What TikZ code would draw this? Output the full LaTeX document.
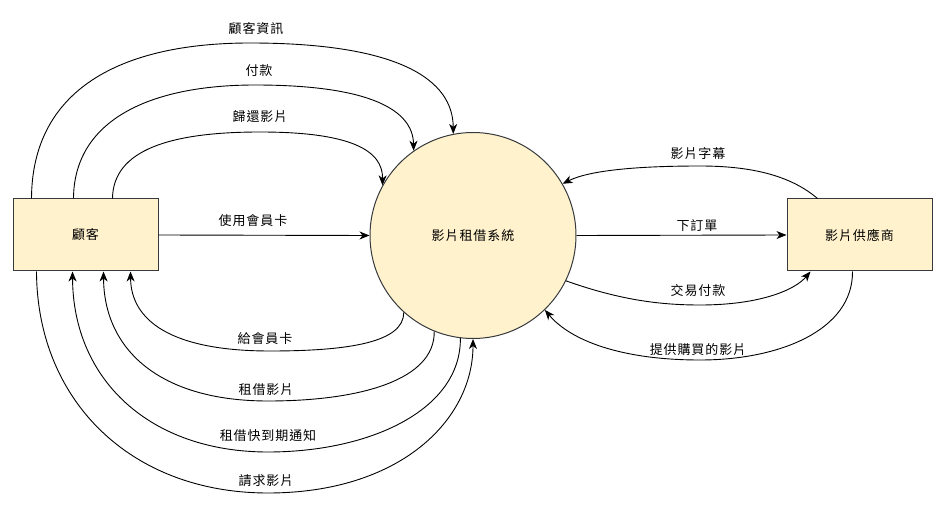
\documentclass[tikz,border=0pt]{standalone}
\usepackage{fontspec}
\setmainfont{Noto Sans CJK TC}[LetterSpace=7]
\usetikzlibrary{arrows.meta,calc}
\definecolor{boxfill}{HTML}{FFF2CC}
\definecolor{boxline}{HTML}{36393D}
\begin{document}
\begin{tikzpicture}[x=1pt,y=-1pt,
  entity/.style={draw=boxline,fill=boxfill,line width=1pt,minimum width=145pt,minimum height=72pt,inner sep=0pt,font=\fontsize{13pt}{15pt}\selectfont},
  proc/.style={circle,draw=boxline,fill=boxfill,line width=1pt,minimum size=206pt,inner sep=0pt,font=\fontsize{13pt}{15pt}\selectfont},
  flow/.style={draw=black,line width=0.9pt,-{Stealth[length=10pt,width=8pt,inset=3pt]}},
  lbl/.style={inner sep=0pt,font=\fontsize{13pt}{15pt}\selectfont}]
\useasboundingbox (0,0) rectangle (938,513);
\node[entity] (cust) at (85.5,235) {顧客};
\node[proc] (sys) at (473,235.5) {影片租借系統};
\node[entity] (sup) at (859.5,235) {影片供應商};

% top arrows customer -> system
\draw[flow] ($(cust.north west)+(19,0)$) .. controls (32,90) and (120,43) .. (250,43) .. controls (400,43) and (453,80) .. (sys.101);
\draw[flow] ($(cust.north west)+(61,0)$) .. controls (74,120) and (150,85) .. (255,85) .. controls (370,85) and (413,110) .. (sys.125);
\draw[flow] ($(cust.north west)+(100,0)$) .. controls (113,150) and (170,132) .. (260,132) .. controls (350,132) and (383,150) .. (sys.151);
\draw[flow] (cust.east) -- (sys.west);

% bottom arrows system -> customer
\draw[flow] (sys.228) .. controls (404,342) and (350,351) .. (270,351) .. controls (170,351) and (131,320) .. ($(cust.south west)+(118,0)$);
\draw[flow] (sys.248) .. controls (435,380) and (360,401) .. (268,401) .. controls (160,401) and (104,350) .. ($(cust.south west)+(91,0)$);
\draw[flow] (sys.263) .. controls (461,410) and (370,452) .. (268,452) .. controls (150,452) and (73,380) .. ($(cust.south west)+(60,0)$);
\draw[flow] ($(cust.south west)+(24,0)$) .. controls (37,400) and (130,493) .. (268,493) .. controls (400,493) and (473,420) .. (sys.270);

% right side
\draw[flow] ($(sup.north west)+(31,0)$) .. controls (790,175) and (750,166) .. (700,166) .. controls (640,166) and (590,170) .. (sys.30);
\draw[flow] (sys.east) -- (sup.west);
\draw[flow] (sys.-26) .. controls (620,300) and (660,305) .. (700,305) .. controls (760,305) and (795,290) .. ($(sup.south west)+(24,0)$);
\draw[flow] ($(sup.south west)+(66,0)$) .. controls (853,330) and (780,360) .. (700,360) .. controls (620,360) and (570,340) .. (sys.-46.6);

% labels
\node[lbl] (l1) at (256,29) {顧客資訊};
\node[lbl] (l2) at (259,71) {付款};
\node[lbl] (l3) at (260,117) {歸還影片};
\node[lbl] (l4) at (253,221) {使用會員卡};
\node[lbl] (l5) at (265,339) {給會員卡};
\node[lbl] (l6) at (266,390) {租借影片};
\node[lbl] (l7) at (268,436) {租借快到期通知};
\node[lbl] (l8) at (266,481) {請求影片};
\node[lbl] (l9) at (698,154) {影片字幕};
\node[lbl] (l10) at (697,226) {下訂單};
\node[lbl] (l11) at (698,291) {交易付款};
\node[lbl] (l12) at (698,350) {提供購買的影片};
\end{tikzpicture}
\end{document}
